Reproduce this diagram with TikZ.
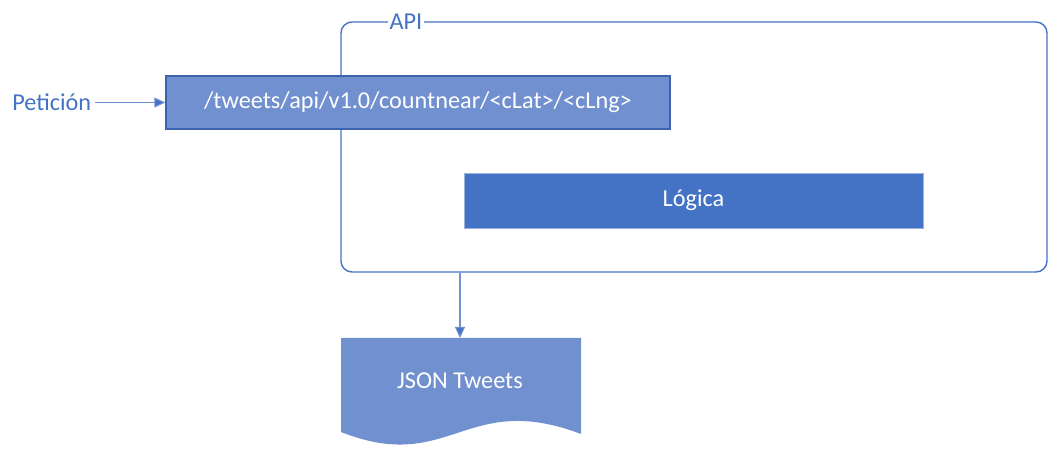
\documentclass[tikz,border=0pt]{standalone}
\usepackage{fontspec}
\setmainfont{Carlito}
\usetikzlibrary{arrows.meta,positioning,calc}
\definecolor{azure}{HTML}{4472C4}
\definecolor{paleazure}{HTML}{7190CF}
\definecolor{deepazure}{HTML}{3C64AE}

\begin{document}
\begin{tikzpicture}[font=\fontsize{13.8pt}{16pt}\selectfont,
    frame/.style={draw=azure,line width=0.8pt,rounded corners=0.22cm,minimum width=14.12cm,minimum height=5cm},
    route/.style={draw=deepazure,line width=0.8pt,fill=paleazure,text=white,minimum width=10.08cm,minimum height=1.06cm},
    logic/.style={draw=paleazure!70!white,line width=0.4pt,fill=azure,text=white,minimum width=9.18cm,minimum height=1.1cm},
    flow/.style={paleazure,line width=0.6pt,-{Triangle[length=2.2mm,width=2mm,fill=azure]}}]
  \useasboundingbox (0,0) rectangle (21,9);
  % API frame
  \node[frame] (api) at (13.88,6.06) {};
  \node[fill=white,inner sep=1pt,text=azure] (apilabel) at (8.12,8.56) {API};
  % route and logic
  \node[route] (route) at (8.36,6.95) {/tweets/api/v1.0/countnear/<cLat>/<cLng>};
  \node[logic] (logica) at (13.87,4.99) {Lógica};
  \node[text=azure,anchor=east,inner sep=2pt] (peticion) at (1.9,6.95) {Petición};
  \draw[flow] (peticion) -- (route);
  % output document
  \coordinate (doctop) at (9.2,2.24);
  \fill[paleazure] (6.82,2.24) -- (11.62,2.24) -- (11.62,0.32)
    .. controls (9.3,1.2) and (9.0,-0.5) .. (6.82,0.36) -- cycle;
  \node[text=white] (tweets) at (9.2,1.38) {JSON Tweets};
  \draw[flow] (api.south -| doctop) -- (doctop);
\end{tikzpicture}
\end{document}
